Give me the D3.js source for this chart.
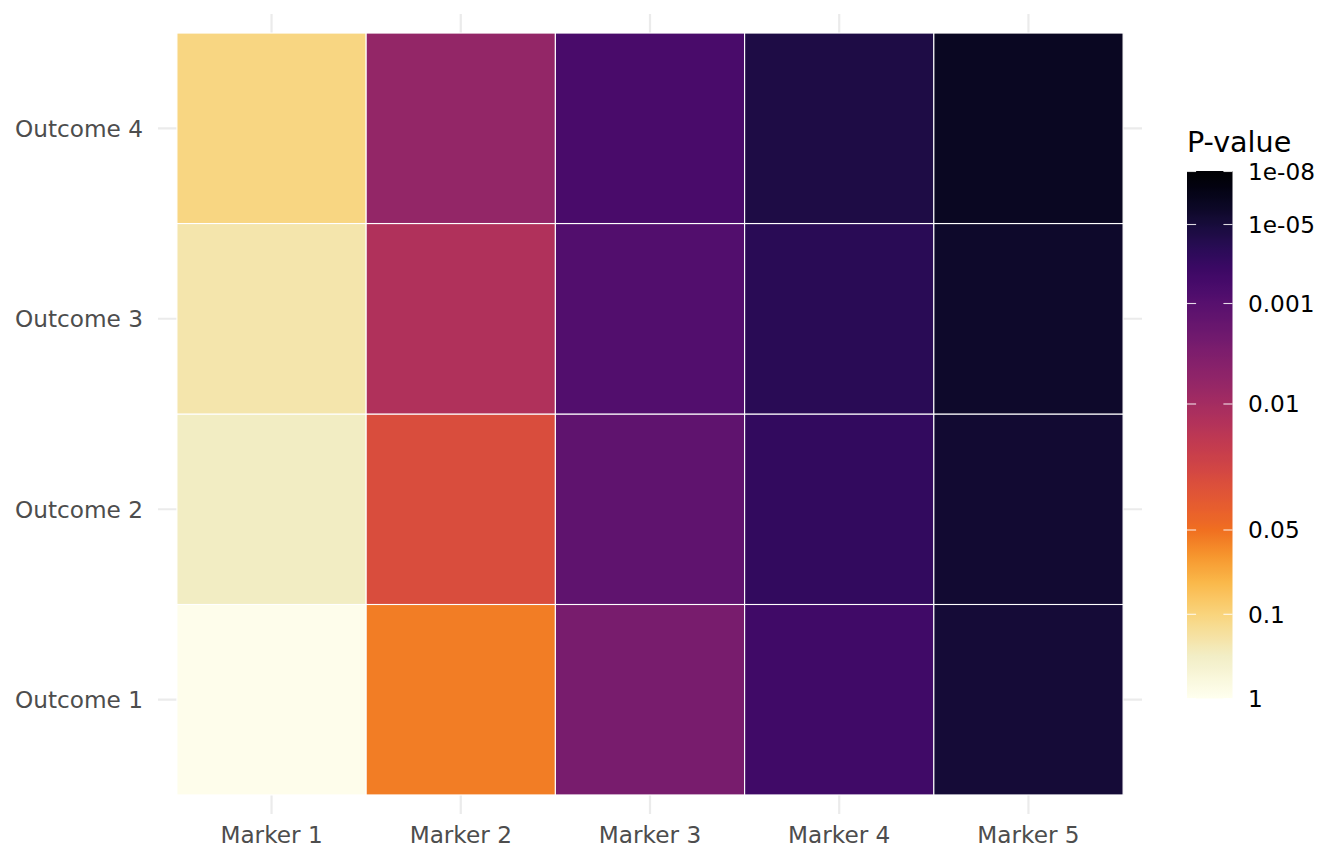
<!DOCTYPE html>
<html>
<head>
<meta charset="utf-8">
<script src="https://cdn.jsdelivr.net/npm/d3@7"></script>
<style>
  html, body { margin: 0; padding: 0; background: #ffffff; }
  svg { display: block; font-family: "DejaVu Sans", sans-serif; }
</style>
</head>
<body>
<svg id="chart" width="1344" height="864"></svg>
<script>
// ---- data ----
const markers = ["Marker 1", "Marker 2", "Marker 3", "Marker 4", "Marker 5"];
const outcomes = ["Outcome 1", "Outcome 2", "Outcome 3", "Outcome 4"];
// P-values per outcome (one value per marker)
const outcome1P = [0.9, 0.054, 0.0027, 1.8e-4, 6e-6];
const outcome2P = [0.3, 0.027, 0.0013, 7e-5, 4.5e-6];
const outcome3P = [0.21, 0.012, 7e-4, 3.9e-5, 1.7e-6];
const outcome4P = [0.11, 0.006, 3.4e-4, 1.8e-5, 6e-7];
const legendBreaks = [1e-8, 1e-5, 0.001, 0.01, 0.05, 0.1, 1];
const legendLabels = ["1e-08", "1e-05", "0.001", "0.01", "0.05", "0.1", "1"];

const pRows = [outcome1P, outcome2P, outcome3P, outcome4P];
const cells = [];
outcomes.forEach((o, i) => markers.forEach((m, j) => cells.push({ outcome: o, marker: m, p: pRows[i][j] })));

// ---- layout ----
const svg = d3.select("#chart");
const x = d3.scaleLinear().domain([0.4, 5.6]).range([158, 1142]);
const y = d3.scaleLinear().domain([0.4, 4.6]).range([814, 14]);
const xi = m => markers.indexOf(m) + 1;
const yi = o => outcomes.indexOf(o) + 1;

// Legend position scale: log10(p) -> y pixel on the colour bar
const legTop = 171, legBottom = 698.5;
const legY = d3.scaleLinear()
  .domain([-8, -5, -3, -2, -1.30103, -1, 0])
  .range([171.5, 224.5, 303.5, 404, 530, 614.3, 698.5]);
const frac = p => (legBottom - legY(Math.log10(p))) / (legBottom - legTop);

// colour palette as a function of bar fraction
const lowEnd = d3.scaleLinear()
  .domain([0, 0.08, 0.16, 0.22, 0.27, 0.319])
  .range(["#FFFFEF", "#F2EEC6", "#F9D47C", "#FAB84A", "#F6962E", d3.interpolateInferno(1 - 0.319)])
  .interpolate(d3.interpolateRgb);
const palette = f => {
  f = Math.max(0, Math.min(1, f));
  return f < 0.319 ? lowEnd(f) : d3.interpolateInferno(1 - f);
};
const colour = p => palette(frac(p));

// ---- grid ----
const grid = svg.append("g");
grid.selectAll("line.v").data(markers).join("line")
  .attr("x1", d => x(xi(d))).attr("x2", d => x(xi(d)))
  .attr("y1", y(0.4)).attr("y2", y(4.6))
  .attr("stroke", "#EBEBEB").attr("stroke-width", 2.2);
grid.selectAll("line.h").data(outcomes).join("line")
  .attr("y1", d => y(yi(d))).attr("y2", d => y(yi(d)))
  .attr("x1", x(0.4)).attr("x2", x(5.6))
  .attr("stroke", "#EBEBEB").attr("stroke-width", 2.2);

// ---- tiles ----
svg.append("g").selectAll("rect").data(cells).join("rect")
  .attr("x", d => x(xi(d.marker) - 0.5))
  .attr("y", d => y(yi(d.outcome) + 0.5))
  .attr("width", d => x(xi(d.marker) + 0.5) - x(xi(d.marker) - 0.5))
  .attr("height", d => y(yi(d.outcome) - 0.5) - y(yi(d.outcome) + 0.5))
  .attr("fill", d => colour(d.p))
  .attr("stroke", "#ffffff").attr("stroke-width", 1.1);

// ---- axis labels ----
svg.append("g").selectAll("text").data(outcomes).join("text")
  .attr("x", 143).attr("y", d => y(yi(d)))
  .attr("dy", "0.36em")
  .attr("text-anchor", "end")
  .attr("font-size", 23.2).attr("fill", "#4D4D4D")
  .text(d => d);
svg.append("g").selectAll("text").data(markers).join("text")
  .attr("x", d => x(xi(d))).attr("y", 843)
  .attr("text-anchor", "middle")
  .attr("font-size", 23.2).attr("fill", "#4D4D4D")
  .text(d => d);

// ---- legend ----
const defs = svg.append("defs");
const grad = defs.append("linearGradient").attr("id", "pgrad")
  .attr("x1", 0).attr("y1", 1).attr("x2", 0).attr("y2", 0);
d3.range(0, 101).forEach(k => {
  grad.append("stop").attr("offset", (k / 100)).attr("stop-color", palette(k / 100));
});
const legX = 1187, legW = 45.5;
svg.append("rect").attr("x", legX).attr("y", legTop)
  .attr("width", legW).attr("height", legBottom - legTop)
  .attr("fill", "url(#pgrad)");
const lg = svg.append("g");
lg.selectAll("line.l").data(legendBreaks).join("line")
  .attr("x1", legX).attr("x2", legX + legW / 5)
  .attr("y1", d => legY(Math.log10(d))).attr("y2", d => legY(Math.log10(d)))
  .attr("stroke", "#ffffff").attr("stroke-width", 1.1).attr("stroke-opacity", 0.85);
lg.selectAll("line.r").data(legendBreaks).join("line")
  .attr("x1", legX + legW * 4 / 5).attr("x2", legX + legW)
  .attr("y1", d => legY(Math.log10(d))).attr("y2", d => legY(Math.log10(d)))
  .attr("stroke", "#ffffff").attr("stroke-width", 1.1).attr("stroke-opacity", 0.85);
lg.selectAll("text").data(legendBreaks).join("text")
  .attr("x", 1248).attr("y", d => legY(Math.log10(d)))
  .attr("dy", "0.36em")
  .attr("font-size", 23.2).attr("fill", "#000000")
  .text((d, i) => legendLabels[i]);
svg.append("text").attr("x", 1187).attr("y", 152)
  .attr("font-size", 28.6).attr("fill", "#000000")
  .text("P-value");
</script>
</body>
</html>
